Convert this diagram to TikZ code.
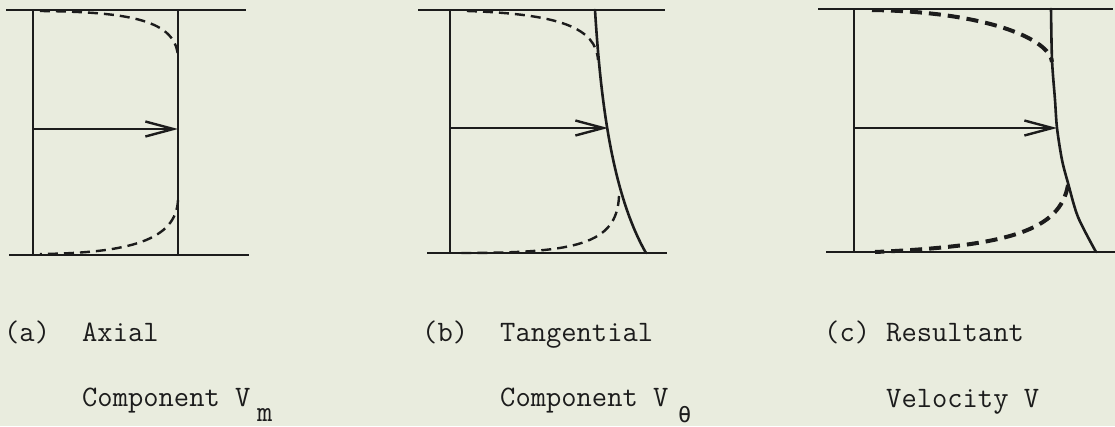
\documentclass[tikz,border=0pt]{standalone}
\usepackage{fontspec}
\newfontfamily\grk{DejaVu Sans Mono}
\usetikzlibrary{arrows.meta}
\definecolor{paper}{RGB}{233,236,222}
\definecolor{ink}{RGB}{28,28,28}
\tikzset{
  wall/.style={draw=ink, line width=2.2pt},
  prof/.style={draw=ink, line width=2.6pt, line cap=round},
  vel/.style={draw=ink, line width=1.8pt, -{Straight Barb[length=28pt,width=15pt,line width=2.4pt]}},
  thindash/.style={draw=ink, line width=2.4pt, dash pattern=on 10pt off 6pt},
  thickdash/.style={draw=ink, line width=4pt, dash pattern=on 12pt off 7pt},
  lbl/.style={anchor=base west, inner sep=0pt, text=ink, font=\ttfamily\fontsize{29.7}{30}\selectfont}
}
\begin{document}
\begin{tikzpicture}[x=1pt,y=-1pt]
\fill[paper] (0,0) rectangle (1115,426);
\useasboundingbox (0,0) rectangle (1115,426);

% ---------- (a) ----------
\coordinate (aTL) at (6,10);   \coordinate (aTR) at (246,10);
\coordinate (aBL) at (9,255);  \coordinate (aBR) at (249,255);
\coordinate (aL1) at (33,10);  \coordinate (aL2) at (33,255);
\coordinate (aR1) at (178,10); \coordinate (aR2) at (178,255);
\coordinate (aA1) at (33,129); \coordinate (aA2) at (178,129);
\draw[wall] (aTL) -- (aTR);
\draw[wall] (aBL) -- (aBR);
\draw[wall] (aL1) -- (aL2);
\draw[wall] (aR1) -- (aR2);
\draw[vel] (aA1) -- (aA2);
\draw[thindash] (40,11) .. controls (130,12) and (177,20) .. (178,58);
\draw[thindash] (178,200) .. controls (176,240) and (130,253) .. (40,254);

% ---------- (b) ----------
\coordinate (bTL) at (418,10);  \coordinate (bTR) at (665,10);
\coordinate (bBL) at (427,253); \coordinate (bBR) at (667,253);
\coordinate (bL1) at (450,10);  \coordinate (bL2) at (450,253);
\coordinate (bA1) at (450,128); \coordinate (bA2) at (608,128);
\draw[wall] (bTL) -- (bTR);
\draw[wall] (bBL) -- (bBR);
\draw[wall] (bL1) -- (bL2);
\draw[prof] (595,10) .. controls (600,90) and (610,190) .. (646,253);
\draw[vel] (bA1) -- (bA2);
\draw[thindash] (467,11) .. controls (560,14) and (596,28) .. (598,60);
\draw[thindash] (619,196) .. controls (617,245) and (575,253) .. (460,253);

% ---------- (c) ----------
\coordinate (cTL) at (818,9);   \coordinate (cTR) at (1113,9);
\coordinate (cBL) at (826,252); \coordinate (cBR) at (1115,252);
\coordinate (cL1) at (854,9);   \coordinate (cL2) at (854,252);
\coordinate (cA1) at (854,128); \coordinate (cA2) at (1057,128);
\draw[wall] (cTL) -- (cTR);
\draw[wall] (cBL) -- (cBR);
\draw[wall] (cL1) -- (cL2);
\draw[prof] plot[smooth, tension=0.5] coordinates {(1051,9) (1052,60) (1055,100) (1057,128) (1062,160) (1068,183) (1078,217) (1096,252)};
\draw[vel] (cA1) -- (cA2);
\draw[thickdash] (872,10) .. controls (990,12) and (1050,40) .. (1052,62);
\draw[thickdash] (1068,185) .. controls (1060,230) and (1010,246) .. (875,252);

% ---------- labels ----------
\node[lbl] (la) at (4,341) {(a)};
\node[lbl] (la2) at (82,341) {Axial};
\node[lbl] (la3) at (82,406) {Component V};
\node[lbl] (la4) at (257,421) {m};
\node[lbl] (lb) at (422,341) {(b)};
\node[lbl] (lb2) at (500,341) {Tangential};
\node[lbl] (lb3) at (500,406) {Component V};
\node[lbl, font=\grk\fontsize{22}{22}\selectfont] (lb4) at (678,422) {θ};
\node[lbl] (lc) at (824,341) {(c)};
\node[lbl] (lc2) at (886,341) {Resultant};
\node[lbl] (lc3) at (886,407) {Velocity V};
\end{tikzpicture}
\end{document}
